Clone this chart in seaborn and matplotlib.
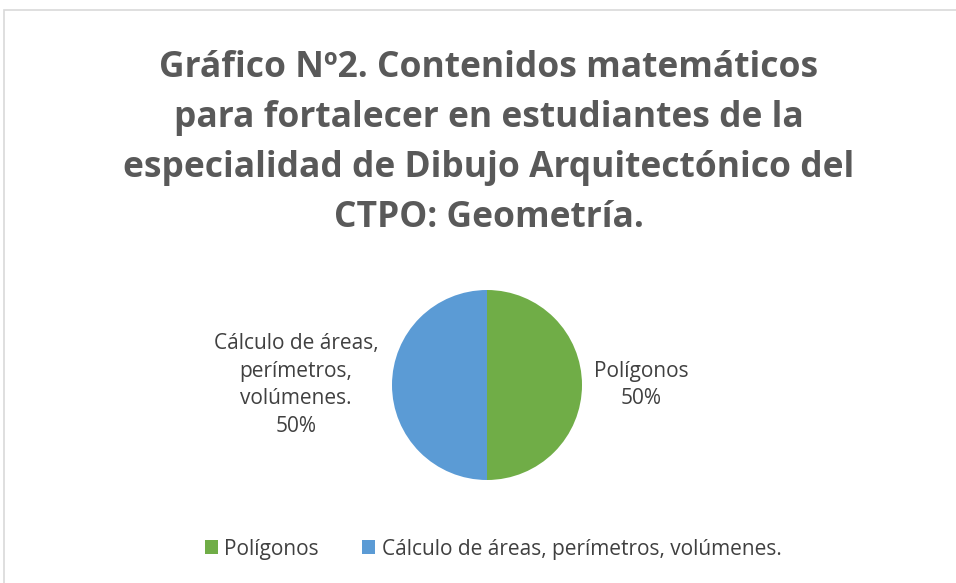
import matplotlib
matplotlib.use("Agg")
import matplotlib.pyplot as plt
import seaborn as sns
from matplotlib.patches import Rectangle

categories = ["Polígonos", "Cálculo de áreas, perímetros, volúmenes."]
label_text = ["Polígonos", "Cálculo de áreas,\nperímetros,\nvolúmenes."]
values = [50, 50]
colors = ["#70AD47", "#5B9BD5"]
title = ("Gráfico Nº2. Contenidos matemáticos\npara fortalecer en estudiantes de la\n"
         "especialidad de Dibujo Arquitectónico del\nCTPO: Geometría.")

sns.set_theme(style="white")
plt.rcParams['font.family'] = ['Open Sans', 'DejaVu Sans']

W, H = 956, 583
fig = plt.figure(figsize=(W / 100, H / 100), dpi=100)
fig.patch.set_facecolor("white")

# chart border
fig.patches.append(Rectangle((4 / W, -0.1), 1.2, 1 - 10 / H + 0.1, transform=fig.transFigure,
                             fill=False, edgecolor="#D9D9D9", linewidth=1.2))

# va=baseline anchors the last line of the title
fig.text(489 / W, 1 - 227 / H, title, ha="center", va="baseline", fontsize=25.5,
         fontweight="bold", color="#595959", linespacing=1.52, multialignment="center")

r = 95
cx, cy = 487, H - 385
ax = fig.add_axes([(cx - r) / W, (cy - r) / H, 2 * r / W, 2 * r / H])
wedges, _ = ax.pie(values, colors=colors, startangle=90, counterclock=False,
                   wedgeprops=dict(linewidth=0))
ax.set_xlim(-1, 1)
ax.set_ylim(-1, 1)
ax.set_aspect("equal")
ax.axis("off")

total = sum(values)
label_pos = [(1.62, 0.0), (-2.01, 0.0)]
for (lx, ly), txt, v in zip(label_pos, label_text, values):
    ax.text(lx, ly, f"{txt}\n{round(100 * v / total)}%", ha="center", va="center",
            fontsize=15, color="#404040", linespacing=1.4, clip_on=False)

fig.legend(wedges, categories, loc="center", bbox_to_anchor=(493 / W, 1 - 549 / H), ncol=2,
           frameon=False, fontsize=15, handlelength=0.63, handleheight=0.63,
           handletextpad=0.3, columnspacing=2.1, labelcolor="#404040")

fig.savefig("out.png", dpi=100)
